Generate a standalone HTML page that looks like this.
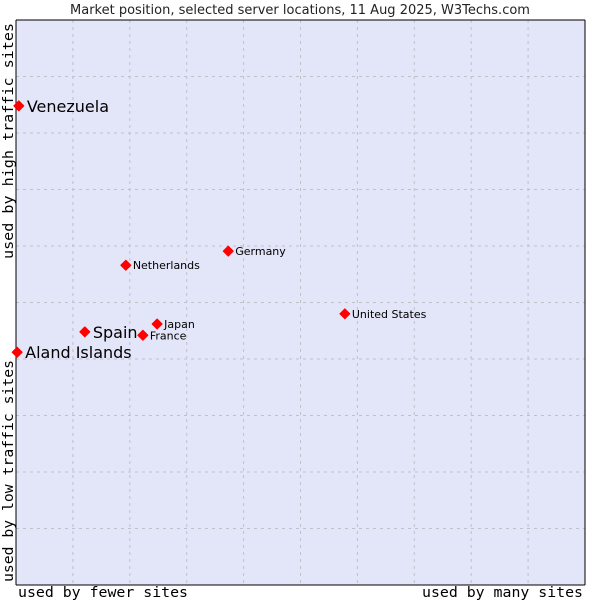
<!DOCTYPE html>
<html><head><meta charset="utf-8"><style>
body{margin:0;background:#fff;}
svg{display:block;font-family:"DejaVu Sans","Liberation Sans",sans-serif;}
</style></head><body>
<svg id="chart" width="600" height="600">
<text x="300" y="14" text-anchor="middle" font-size="13" fill="#222">Market position, selected server locations, 11 Aug 2025, W3Techs.com</text>
<rect x="16" y="20" width="569" height="565" fill="#e3e5f8" stroke="none"/>
<g id="grid"></g>
<line x1="16" y1="20" x2="16" y2="585" stroke="#000"/>
<line x1="16" y1="585" x2="585" y2="585" stroke="#000"/>
<line x1="16" y1="20" x2="585" y2="20" stroke="#000"/>
<line x1="585" y1="20" x2="585" y2="585" stroke="#000"/>
<g id="points"></g>
<text x="18" y="597" textLength="170" lengthAdjust="spacingAndGlyphs" font-family="'DejaVu Sans Mono','Liberation Mono',monospace" font-size="14">used by fewer sites</text>
<text x="422" y="597" textLength="161" lengthAdjust="spacingAndGlyphs" font-family="'DejaVu Sans Mono','Liberation Mono',monospace" font-size="14">used by many sites</text>
<text transform="translate(13,582) rotate(-90)" textLength="222" lengthAdjust="spacingAndGlyphs" font-family="'DejaVu Sans Mono','Liberation Mono',monospace" font-size="14">used by low traffic sites</text>
<text transform="translate(13,259) rotate(-90)" textLength="236" lengthAdjust="spacingAndGlyphs" font-family="'DejaVu Sans Mono','Liberation Mono',monospace" font-size="14">used by high traffic sites</text>
</svg>
<script>
const names=["Venezuela","Aland Islands","Spain","Japan","France","Netherlands","Germany","United States"];
const xVals=[0.5,0.2,12.1,24.8,22.3,19.3,37.3,57.8];
const yVals=[84.8,41.2,44.8,46.2,44.2,56.6,59.1,48.0];
const bigLabel=[true,true,true,false,false,false,false,false];
const NS="http://www.w3.org/2000/svg";
const X=v=>16+v*5.69, Y=v=>585-v*5.65;
const grid=document.getElementById('grid');
for(let i=1;i<10;i++){
  const v=document.createElementNS(NS,'line');
  v.setAttribute('x1',X(i*10));v.setAttribute('x2',X(i*10));v.setAttribute('y1',20);v.setAttribute('y2',585);
  v.setAttribute('stroke','#c0c0c8');v.setAttribute('stroke-dasharray','3,4');
  
  
  grid.appendChild(v);
  const h=document.createElementNS(NS,'line');
  h.setAttribute('y1',Y(i*10));h.setAttribute('y2',Y(i*10));h.setAttribute('x1',16);h.setAttribute('x2',585);
  h.setAttribute('stroke','#c0c0c8');h.setAttribute('stroke-dasharray','3,4');
  
  
  grid.appendChild(h);
}
const pts=document.getElementById('points');
names.forEach((n,i)=>{
  const cx=X(xVals[i]),cy=Y(yVals[i]);
  const d=document.createElementNS(NS,'path');
  d.setAttribute('d',`M${cx-5},${cy} L${cx},${cy-5} L${cx+5},${cy} L${cx},${cy+5} Z`);
  d.setAttribute('fill','#f00');
  d.setAttribute('stroke','#f00');
  d.setAttribute('stroke-linejoin','round');
  
  
  pts.appendChild(d);
  const t=document.createElementNS(NS,'text');
  t.setAttribute('x',cx+(bigLabel[i]?8:7));
  t.setAttribute('y',cy+(bigLabel[i]?6:4));
  t.setAttribute('font-size',bigLabel[i]?16:11);
  t.setAttribute('fill','#000');
  t.textContent=n;
  
  
  pts.appendChild(t);
});
</script>
</body></html>
